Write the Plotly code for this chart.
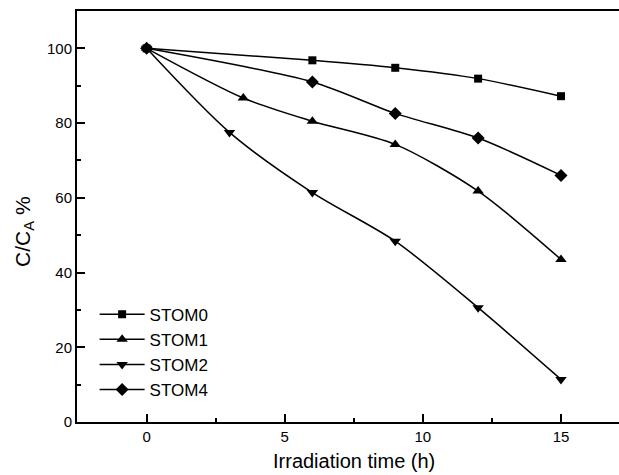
import plotly.graph_objects as go

# Data
stom0_x = [0, 6, 9, 12, 15]
stom0_y = [100, 96.8, 94.8, 91.9, 87.2]

stom1_x = [0, 3.5, 6, 9, 12, 15]
stom1_y = [100, 86.7, 80.5, 74.3, 61.8, 43.5]

stom2_x = [0, 3, 6, 9, 12, 15]
stom2_y = [100, 77.5, 61.4, 48.4, 30.6, 11.4]

stom4_x = [0, 6, 9, 12, 15]
stom4_y = [100, 91.0, 82.6, 76.0, 66.0]

series = [
    ("STOM0", stom0_x, stom0_y, "square", 8),
    ("STOM1", stom1_x, stom1_y, "triangle-up", 10),
    ("STOM2", stom2_x, stom2_y, "triangle-down", 10),
    ("STOM4", stom4_x, stom4_y, "diamond", 10),
]

FONT = "Arial, Liberation Sans, sans-serif"

fig = go.Figure()
for name, xs, ys, sym, sz in series:
    fig.add_trace(go.Scatter(
        x=xs, y=ys, name=name, mode="lines+markers",
        line=dict(color="black", width=1.5, shape="spline", smoothing=0.8),
        marker=dict(symbol=sym, size=sz, color="black"),
    ))

fig.update_layout(
    width=619, height=475,
    margin=dict(l=77, r=0, t=11, b=53),
    paper_bgcolor="white", plot_bgcolor="white",
    font=dict(family=FONT, color="black", size=15),
    showlegend=True,
    legend=dict(x=0.0325, y=0.305, xanchor="left", yanchor="top",
                font=dict(size=17, family=FONT), itemwidth=45,
                bgcolor="rgba(0,0,0,0)", tracegroupgap=0),
    annotations=[
        dict(text="Irradiation time (h)", xref="x", yref="paper",
             x=7.5, y=-0.1275, xanchor="center", yanchor="bottom",
             showarrow=False, font=dict(size=20, family=FONT)),
        dict(text="C/C<sub>A</sub> %", xref="paper", yref="y",
             x=-0.097, y=51, xanchor="center", yanchor="middle",
             textangle=-90, showarrow=False, font=dict(size=21, family=FONT)),
    ],
)

fig.update_xaxes(
    range=[-2.52, 17.1], tickvals=[0, 5, 10, 15], ticktext=["0", "5", "10", "15"],
    showline=True, linecolor="black", linewidth=2, mirror=True,
    ticks="inside", ticklen=8, tickwidth=1.5, tickcolor="black",
    minor=dict(ticks="inside", ticklen=4, tickwidth=1.5, tickcolor="black",
               tickvals=[2.5, 7.5, 12.5]),
    showgrid=False, zeroline=False, tickfont=dict(size=15),
)
fig.update_yaxes(
    range=[0, 110], tickvals=[0, 20, 40, 60, 80, 100],
    ticktext=["0", "20", "40", "60", "80", "100"],
    showline=True, linecolor="black", linewidth=2, mirror=False,
    ticks="inside", ticklen=8, tickwidth=1.5, tickcolor="black",
    minor=dict(ticks="inside", ticklen=4, tickwidth=1.5, tickcolor="black",
               tickvals=[10, 30, 50, 70, 90]),
    showgrid=False, zeroline=False, tickfont=dict(size=15),
)

fig.write_html("out.html",
               config={"displayModeBar": False},
               post_script="document.body.style.margin='0px';")
